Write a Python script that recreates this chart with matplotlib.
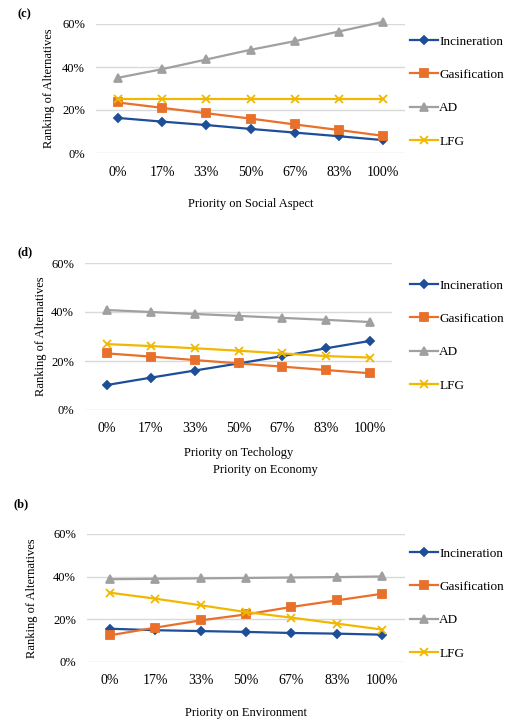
import matplotlib
matplotlib.use('Agg')
import matplotlib.pyplot as plt

plt.rcParams['font.family'] = ['Liberation Serif', 'DejaVu Serif']

# Data (share of ranking, %)
categories = ['0%', '17%', '33%', '50%', '67%', '83%', '100%']
series = ['Incineration', 'Gasification', 'AD', 'LFG']

social_incineration = [16.3, 14.6, 13.0, 11.2, 9.5, 7.8, 6.0]
social_gasification = [23.5, 21.0, 18.5, 16.0, 13.3, 10.7, 8.0]
social_ad = [35.0, 39.0, 43.5, 48.0, 52.0, 56.5, 61.0]
social_lfg = [25.0, 25.0, 25.0, 25.0, 25.0, 25.0, 25.0]

tech_incineration = [10.2, 13.2, 16.1, 19.0, 22.0, 25.2, 28.2]
tech_gasification = [23.1, 21.8, 20.4, 19.0, 17.7, 16.3, 15.0]
tech_ad = [40.8, 40.0, 39.2, 38.4, 37.6, 36.8, 35.9]
tech_lfg = [26.9, 26.1, 25.2, 24.2, 23.1, 22.0, 21.4]

env_incineration = [15.6, 14.9, 14.5, 14.1, 13.6, 13.3, 12.8]
env_gasification = [12.5, 16.1, 19.5, 22.3, 25.8, 28.9, 32.0]
env_ad = [38.8, 39.0, 39.2, 39.4, 39.6, 39.8, 40.1]
env_lfg = [32.5, 29.7, 26.6, 23.4, 20.8, 18.0, 15.2]

colors = ['#1f4e99', '#e8702a', '#a0a0a0', '#f0b800']
markers = ['D', 's', '^', 'x']
msizes = [4, 5.5, 5.5, 6]

W, H = 505, 720
fig = plt.figure(figsize=(W / 100, H / 100), dpi=100)


def px_axes(left, top, width, height):
    return fig.add_axes([left / W, 1 - (top + height) / H, width / W, height / H])


def panel(ax, data, xlabel, legend_top, ylabel_x, xlabel_pad):
    x = range(len(categories))
    for vals, name, c, m, ms in zip(data, series, colors, markers, msizes):
        ax.plot(x, [v / 100 for v in vals], color=c, marker=m, markersize=ms,
                lw=1.6, mew=1.3, label=name, clip_on=False)
    ax.set_xlim(-0.5, 6.5)
    ax.set_ylim(0, 0.6)
    ax.set_yticks([0, 0.2, 0.4, 0.6])
    ax.set_yticklabels(['0%', '20%', '40%', '60%'], fontsize=9)
    ax.set_xticks(list(x))
    ax.set_xticklabels(categories, fontsize=10)
    ax.tick_params(length=0, pad=9)
    ax.tick_params(axis='y', pad=8)
    ax.grid(axis='y', color='#d9d9d9', lw=1)
    ax.set_axisbelow(True)
    for s in ['top', 'right', 'left', 'bottom']:
        ax.spines[s].set_visible(False)
    ax.set_ylabel('Ranking of Alternatives', fontsize=9)
    ax.yaxis.set_label_coords(ylabel_x, 0.5)
    ax.legend(loc='upper left', bbox_to_anchor=(405 / W, 1 - legend_top / H),
              bbox_transform=fig.transFigure, frameon=False, fontsize=9.5,
              handlelength=2.1, handletextpad=0.1, labelspacing=1.6,
              borderaxespad=0)
    ax.set_xlabel(xlabel, fontsize=9, labelpad=xlabel_pad)


ax_c = px_axes(96, 24, 309, 129)
panel(ax_c, [social_incineration, social_gasification, social_ad, social_lfg],
      'Priority on Social Aspect', 30, -0.133, 14)

ax_d = px_axes(85, 263, 307, 147)
panel(ax_d, [tech_incineration, tech_gasification, tech_ad, tech_lfg],
      'Priority on Techology', 274, -0.124, 8)

ax_b = px_axes(87, 534, 318, 128)
panel(ax_b, [env_incineration, env_gasification, env_ad, env_lfg],
      'Priority on Environment', 542, -0.154, 14)

fig.text(265 / W, 1 - 470 / H, 'Priority on Economy', fontsize=9,
         ha='center', va='center')

fig.text(18 / W, 1 - 14 / H, '(c)', fontsize=9, fontweight='bold', ha='left', va='center')
fig.text(18 / W, 1 - 252 / H, '(d)', fontsize=9, fontweight='bold', ha='left', va='center')
fig.text(14 / W, 1 - 504 / H, '(b)', fontsize=9, fontweight='bold', ha='left', va='center')

fig.savefig('out.png', dpi=100, facecolor='white')
